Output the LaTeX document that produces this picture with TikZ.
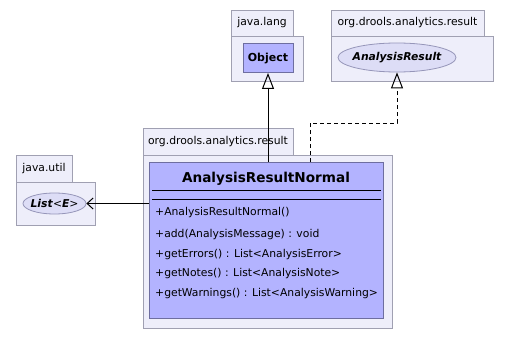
\documentclass[tikz,border=0pt]{standalone}
\usepackage{fontspec}
\setmainfont{DejaVu Sans}
\usetikzlibrary{arrows.meta,shapes.geometric}
\definecolor{pkgfill}{RGB}{238,238,250}
\definecolor{pkgline}{RGB}{160,160,178}
\definecolor{clsfill}{RGB}{179,179,255}
\definecolor{clsline}{RGB}{110,110,160}
\definecolor{ifcfill}{RGB}{221,221,246}
\definecolor{ifcline}{RGB}{150,150,185}
\tikzset{
  box/.style={rectangle, anchor=north west, inner sep=0pt, outer sep=0pt},
  pkgtab/.style={box, fill=pkgfill, draw=pkgline, line width=0.9pt},
  pkglabel/.style={inner sep=0pt, font=\fontsize{10.8}{12}\selectfont},
  pkgbody/.style={box, fill=pkgfill, draw=pkgline, line width=0.9pt},
  classbox/.style={box, fill=clsfill, draw=clsline, line width=1pt},
  iface/.style={ellipse, fill=ifcfill, draw=ifcline, line width=0.8pt, inner sep=0pt},
  member/.style={anchor=west, inner sep=0pt, font=\fontsize{10.8}{13}\selectfont},
  gen/.style={line width=1pt, -{Triangle[open, length=16pt, width=12pt]}},
  realize/.style={line width=1pt, dash pattern=on 4pt off 3pt, -{Triangle[open, length=16pt, width=12pt]}},
  depend/.style={line width=1pt, -{Straight Barb[length=6pt, width=11pt, line width=1pt]}},
}
\begin{document}
\begin{tikzpicture}[x=1pt, y=-1pt]
\useasboundingbox (0,0) rectangle (509,337);
\fill[white] (0,0) rectangle (509,337);

% package java.lang
\node[pkgtab, minimum width=62pt, minimum height=26pt] (langtab) at (231,10) {};
\node[pkglabel] (langlbl) at (262,23) {java.lang};
\node[pkgbody, minimum width=72pt, minimum height=45pt] (lang) at (231,36) {};
\node[classbox, minimum width=50pt, minimum height=29pt] (obj) at (243,44) {};
\node[font=\bfseries\fontsize{11}{12}\selectfont] (objlbl) at (obj.center) {Object};

% package org.drools.analytics.result (interface)
\node[pkgtab, minimum width=153pt, minimum height=26pt] (restab) at (331,10) {};
\node[pkglabel] (reslbl) at (407.5,23) {org.drools.analytics.result};
\node[pkgbody, minimum width=162pt, minimum height=45pt] (res) at (331,36) {};
\node[iface, minimum width=118pt, minimum height=29pt] (ar) at (397,57.5) {};
\node[font=\bfseries\itshape\fontsize{10.8}{12}\selectfont] (arlbl) at (ar.center) {AnalysisResult};

% package java.util
\node[pkgtab, minimum width=56pt, minimum height=27pt] (utiltab) at (16,155) {};
\node[pkglabel] (utillbl) at (44,168.5) {java.util};
\node[pkgbody, minimum width=79pt, minimum height=43pt] (util) at (16,182) {};
\node[iface, minimum width=63pt, minimum height=21pt] (list) at (54.5,203.5) {};
\node[font=\fontsize{10.8}{12}\selectfont] (listlbl) at (list.center) {\textbf{\textit{List}}<\textit{\textbf{E}}>};

% package org.drools.analytics.result (class)
\node[pkgtab, minimum width=150pt, minimum height=27pt] (normtab) at (143,128) {};
\node[pkglabel] (normlbl) at (218,141.5) {org.drools.analytics.result};
\node[pkgbody, minimum width=249pt, minimum height=173pt] (norm) at (143,155) {};

% class AnalysisResultNormal
\node[classbox, minimum width=234pt, minimum height=156pt] (cls) at (149,162) {};
\node[font=\bfseries\fontsize{13.6}{16}\selectfont] (clsname) at (266,178.5) {AnalysisResultNormal};
\coordinate (s1l) at (152,190); \coordinate (s1r) at (381,190);
\coordinate (s2l) at (152,199); \coordinate (s2r) at (381,199);
\draw[line width=1pt] (s1l) -- (s1r);
\draw[line width=1pt] (s2l) -- (s2r);
\node[member] (m1) at (155,213) {+AnalysisResultNormal()};
\node[member] (m2) at (155,235) {+add(AnalysisMessage) : void};
\node[member] (m3) at (155,254.5) {+getErrors() : List<AnalysisError>};
\node[member] (m4) at (155,274) {+getNotes() : List<AnalysisNote>};
\node[member] (m5) at (155,293.5) {+getWarnings() : List<AnalysisWarning>};

% relations
\draw[gen] (obj.south |- cls.north) -- (obj.south);
\coordinate (rb) at (310,162);
\coordinate (rk1) at (310,123);
\coordinate (rk2) at (ar.south |- rk1);
\draw[realize] (rb) -- (rk1) -- (rk2) -- (ar.south);
\draw[depend] (cls.west |- list.east) -- (list.east);
\end{tikzpicture}
\end{document}
